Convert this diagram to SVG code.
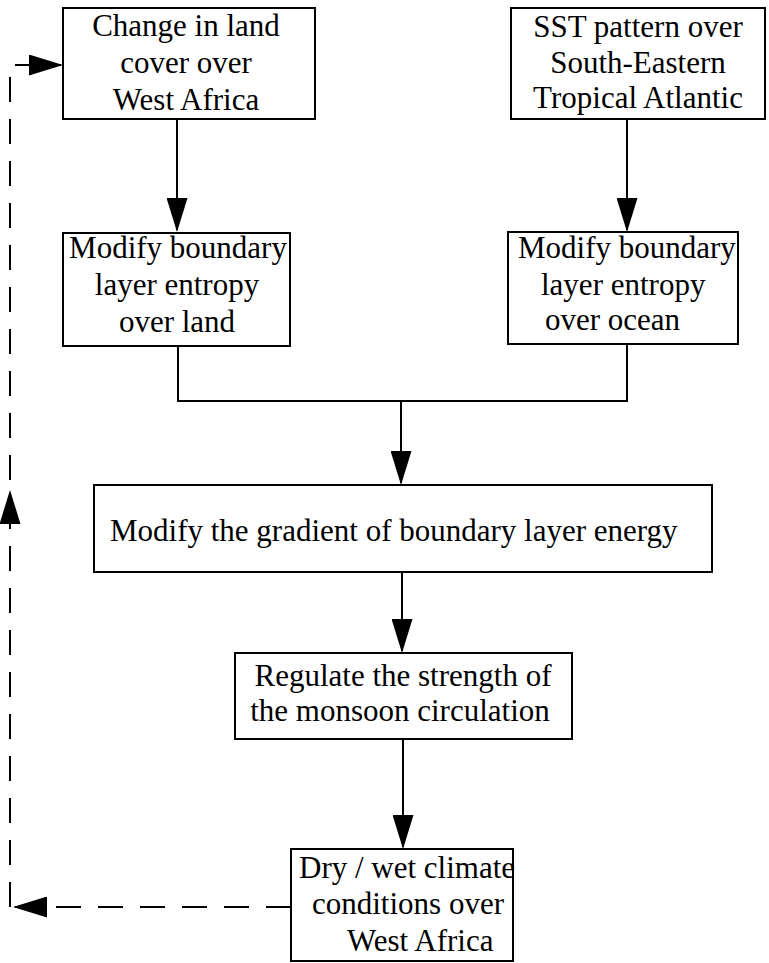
<svg xmlns="http://www.w3.org/2000/svg" width="769" height="963" viewBox="0 0 769 963">
<defs>
<style>
.box{fill:#fff;stroke:#000;stroke-width:2}
.t{font-family:"Liberation Serif","Times New Roman",serif;font-size:31px;fill:#000}
.m{text-anchor:middle}
.c{fill:none;stroke:#000;stroke-width:2}
.d{fill:none;stroke:#000;stroke-width:2;stroke-dasharray:25 17}
</style>
<marker id="ah" viewBox="0 0 34 21" refX="32" refY="10.5" markerWidth="34" markerHeight="21" markerUnits="userSpaceOnUse" orient="auto">
<path d="M0,0 L34,10.5 L0,21 Z" fill="#000"/>
</marker>
</defs>
<rect width="769" height="963" fill="#fff"/>
<g id="connectors">
<path class="c" d="M177,119 V230" marker-end="url(#ah)"/>
<path class="c" d="M627,119 V230" marker-end="url(#ah)"/>
<path class="c" d="M178,346 V401 H627 V344"/>
<path class="c" d="M401,401 V483" marker-end="url(#ah)"/>
<path class="c" d="M402,572 V651" marker-end="url(#ah)"/>
<path class="c" d="M403,739 V847" marker-end="url(#ah)"/>
<path class="d" d="M291,907 H15" marker-end="url(#ah)"/>
<path class="d" d="M10,907 V492" marker-end="url(#ah)"/>
<path class="d" d="M10,522 V65 H61" marker-end="url(#ah)"/>
</g>
<g id="n1">
<rect class="box" x="63" y="8" width="252" height="111"/>
<text class="t m" x="186" y="36">Change in land</text>
<text class="t m" x="186" y="73">cover over</text>
<text class="t m" x="186" y="110">West Africa</text>
</g>
<g id="n2">
<rect class="box" x="511" y="8" width="254" height="111"/>
<text class="t m" x="638" y="37">SST pattern over</text>
<text class="t m" x="638" y="73">South-Eastern</text>
<text class="t m" x="638" y="108">Tropical Atlantic</text>
</g>
<g id="n3">
<rect class="box" x="63" y="233" width="227" height="113"/>
<text class="t m" x="178" y="258">Modify boundary</text>
<text class="t m" x="177" y="295">layer entropy</text>
<text class="t m" x="177" y="332">over land</text>
</g>
<g id="n4">
<rect class="box" x="508" y="232" width="230" height="112"/>
<text class="t" x="518" y="258">Modify boundary</text>
<text class="t" x="541" y="295">layer entropy</text>
<text class="t" x="545" y="330">over ocean</text>
</g>
<g id="n5">
<rect class="box" x="94" y="485" width="618" height="87"/>
<text class="t" x="110" y="541">Modify the gradient of boundary layer energy</text>
</g>
<g id="n6">
<rect class="box" x="235" y="653" width="337" height="86"/>
<text class="t m" x="403" y="686">Regulate the strength of</text>
<text class="t m" x="400" y="721">the monsoon circulation</text>
</g>
<g id="n7">
<rect class="box" x="291" y="849" width="222" height="112"/>
<text class="t" x="299" y="878">Dry / wet climate</text>
<text class="t" x="312" y="914">conditions over</text>
<text class="t" x="347" y="951">West Africa</text>
</g>
</svg>
